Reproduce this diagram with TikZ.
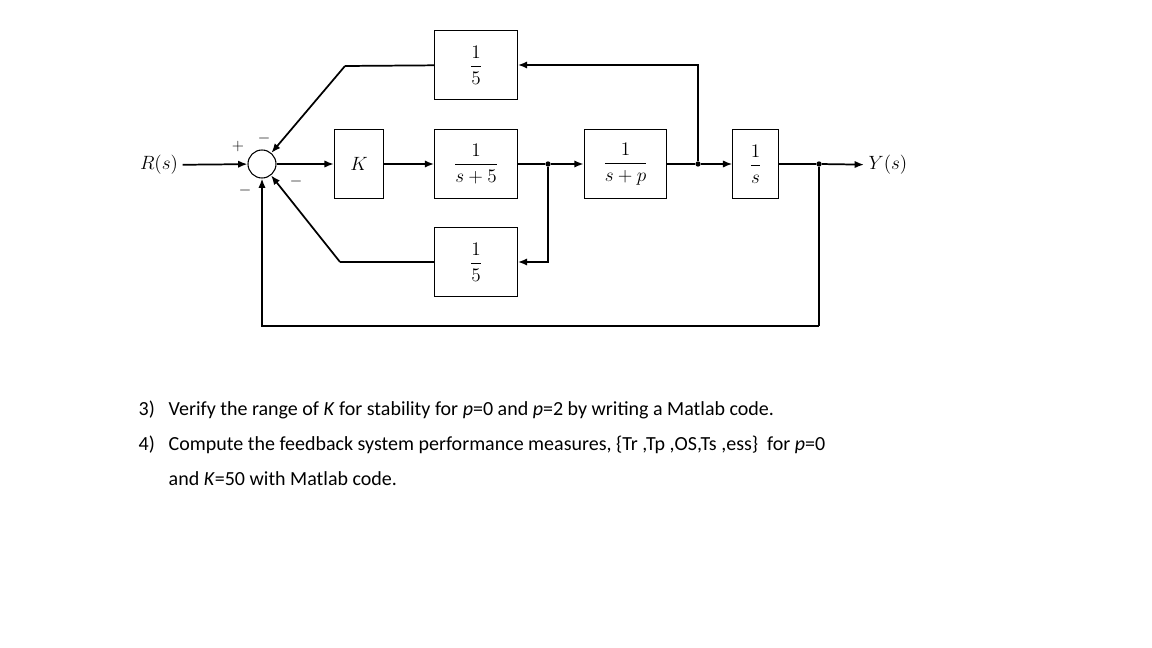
\documentclass[tikz,border=0pt]{standalone}
\usepackage{amsmath}
\usepackage{fontspec}
\newfontfamily\consigne{Carlito}
\usetikzlibrary{arrows.meta}

\begin{document}
\begin{tikzpicture}[x=0.75pt,y=-0.75pt,
    bloc/.style={draw, line width=0.8pt, inner sep=0pt, minimum height=52pt,
      font=\fontsize{14.5}{16}\selectfont},
    large/.style={minimum width=62pt},
    etroit/.style={minimum width=37pt},
    somme/.style={draw, circle, line width=0.8pt, minimum size=21pt, inner sep=0pt},
    point/.style={circle, fill, inner sep=0pt, minimum size=4pt},
    fleche/.style={-{Latex[length=7pt,width=5.5pt]}, line width=1.3pt},
    ligne/.style={line width=1.3pt},
    signe/.style={font=\fontsize{13}{14}\selectfont},
    etiquette/.style={font=\fontsize{13.5}{15}\selectfont},
    texte/.style={anchor=west, font=\consigne\fontsize{15}{18}\selectfont},
  ]
  \useasboundingbox (0,0) rectangle (1152,648);

  % chaine directe
  \node[somme] (sum) at (262,164) {};
  \node[etiquette] (R) at (159,165) {$R(s)$};
  \node[bloc,etroit] (K) at (359,164) {$K$};
  \node[bloc,large] (g1) at (476,164) {$\dfrac{1}{s+5}$};
  \node[bloc,large] (g2) at (625.5,164) {$\dfrac{1}{s+p}$};
  \node[bloc,minimum width=34pt] (integ) at (755.5,164) {$\dfrac{1}{s}$};
  \node[etiquette] (Y) at (888,165) {$Y(s)$};

  % blocs de retour
  \node[bloc,large] (top) at (476,65) {$\dfrac{1}{5}$};
  \node[bloc,large] (bot) at (476,262) {$\dfrac{1}{5}$};

  \node[point] (j1) at (548,164) {};
  \node[point] (j2) at (698,164) {};
  \node[point] (j3) at (819,164) {};
  \coordinate (c1) at (345,66);
  \coordinate (c2) at (340,262);
  \coordinate (c3) at (819,326);

  \draw[fleche] (R) -- (sum);
  \draw[fleche] (sum) -- (K);
  \draw[fleche] (K) -- (g1);
  \draw[ligne] (g1) -- (j1);
  \draw[fleche] (j1) -- (g2);
  \draw[ligne] (g2) -- (j2);
  \draw[fleche] (j2) -- (integ);
  \draw[ligne] (integ) -- (j3);
  \draw[fleche] (j3) -- (Y);

  \draw[fleche] (j2) |- (top);
  \draw[ligne] (top) -- (c1);
  \draw[fleche] (c1) -- (sum);
  \draw[fleche] (j1) |- (bot);
  \draw[ligne] (bot) -- (c2);
  \draw[fleche] (c2) -- (sum);
  \draw[ligne] (j3) -- (c3);
  \draw[fleche] (c3) -| (sum);

  % signes
  \node[signe] (p1) at (238,147) {$+$};
  \node[signe] (m1) at (264,139) {$-$};
  \node[signe] (m2) at (245,191) {$-$};
  \node[signe] (m3) at (296,182) {$-$};

  % enonce
  \node[texte] (n3) at (134,410) {3)};
  \node[texte] (q3) at (164,410) {Verify the range of \textit{K} for stability for \textit{p}=0 and \textit{p}=2 by writing a Matlab code.};
  \node[texte] (n4) at (134,445) {4)};
  \node[texte] (q4) at (164,445) {Compute the feedback system performance measures, \{Tr ,Tp ,OS,Ts ,ess\}\ \ for \textit{p}=0};
  \node[texte] (q4b) at (164,479) {and \textit{K}=50 with Matlab code.};
\end{tikzpicture}
\end{document}
